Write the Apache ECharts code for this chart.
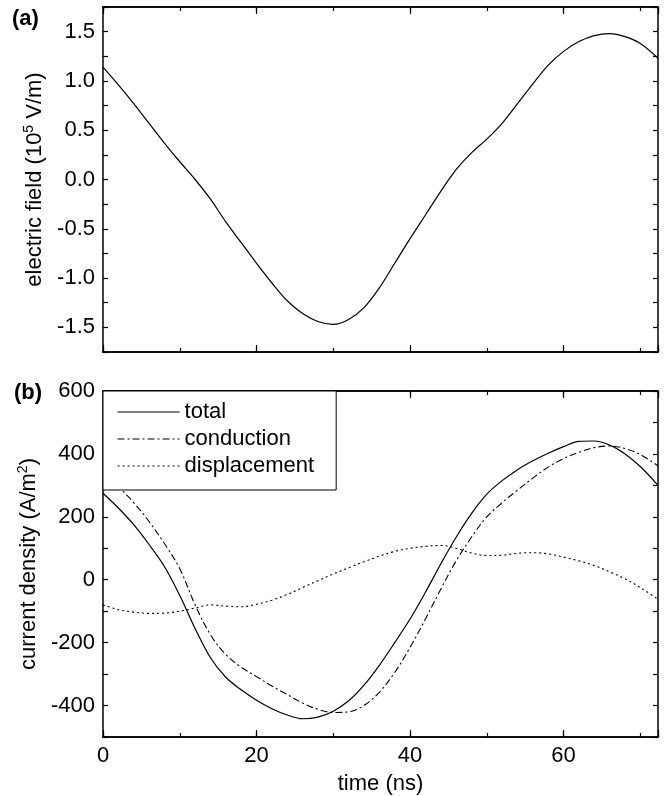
<!DOCTYPE html>
<html>
<head>
    <meta charset="utf-8">
    <script src="https://cdn.jsdelivr.net/npm/echarts@6/dist/echarts.min.js"></script>
    <style>
        html, body { margin: 0; padding: 0; background: #fff; }
        #chart { width: 669px; height: 796px; }
    </style>
</head>
<body>
    <div id="chart"></div>
    <script>
        // (a) electric field, 10^5 V/m
        var fieldTime = [0, 2, 4, 6, 8, 10, 12, 14, 16, 18, 20, 22, 24, 26, 28, 30, 32, 34, 36, 38, 40, 42, 44, 46, 48, 50, 52, 54, 56, 58, 60, 62, 64, 66, 68, 70, 72.3];
        var fieldVals = [1.14, 0.96, 0.77, 0.57, 0.37, 0.18, 0.00, -0.20, -0.43, -0.64, -0.85, -1.05, -1.23, -1.36, -1.44, -1.47, -1.42, -1.30, -1.10, -0.85, -0.60, -0.36, -0.12, 0.10, 0.27, 0.41, 0.57, 0.77, 0.97, 1.16, 1.30, 1.40, 1.46, 1.48, 1.45, 1.38, 1.23];

        // (b) current density, A/m^2
        var curTime = [0, 2, 4, 6, 8, 10, 12, 14, 16, 18, 20, 22, 24, 26, 28, 30, 32, 34, 36, 38, 40, 42, 44, 46, 48, 50, 52, 54, 56, 58, 60, 62, 64, 66, 68, 70, 72.3];
        var totalVals = [275, 228, 175, 112, 42, -50, -155, -248, -310, -350, -383, -410, -430, -442, -437, -418, -385, -335, -272, -200, -125, -40, 50, 135, 210, 272, 315, 350, 378, 402, 423, 440, 441, 428, 400, 360, 300];
        var condVals = [330, 295, 245, 185, 115, 35, -80, -175, -238, -278, -308, -338, -365, -392, -412, -422, -420, -400, -358, -295, -215, -125, -30, 60, 135, 200, 245, 285, 323, 358, 385, 405, 420, 425, 417, 398, 362];
        var dispVals = [-80, -95, -103, -107, -106, -100, -90, -80, -84, -86, -78, -65, -47, -25, -3, 18, 38, 57, 75, 90, 100, 106, 109, 100, 85, 77, 78, 84, 86, 82, 72, 60, 45, 25, 3, -25, -62];

        var seriesNames = ['total', 'conduction', 'displacement'];

        var FONT = 'Liberation Sans, Arial, sans-serif';
        var chart = echarts.init(document.getElementById('chart'));

        function pairs(xs, ys) {
            return xs.map(function (x, i) { return [x, ys[i]]; });
        }

        var frameLine = { show: true, onZero: false, lineStyle: { color: '#000', width: 1.5 } };

        // x axes: major + minor ticks, bottom and top of each panel
        function xAxes(grid, withLabels) {
            var list = [];
            ['bottom', 'top'].forEach(function (pos) {
                [20, 10].forEach(function (step) {
                    var major = step === 20;
                    var labelled = withLabels && pos === 'bottom' && major;
                    list.push({
                        type: 'value', gridIndex: grid, position: pos,
                        min: 0, max: 72.3, interval: step,
                        axisLine: frameLine,
                        axisTick: { show: true, inside: true, length: major ? 7 : 4, lineStyle: { color: '#000', width: 1.2 } },
                        axisLabel: {
                            show: labelled,
                            color: '#000', fontSize: 22, fontFamily: FONT, margin: 8,
                            formatter: function (v) { return v % 20 === 0 ? String(v) : ''; }
                        },
                        splitLine: { show: false },
                        name: labelled ? 'time (ns)' : '',
                        nameLocation: 'middle', nameGap: 36,
                        nameTextStyle: { color: '#000', fontSize: 22, fontFamily: FONT }
                    });
                });
            });
            return list;
        }

        function yAxes(grid, min, max, step, labelFn, name, rich) {
            return ['left', 'right'].map(function (pos) {
                return {
                    type: 'value', gridIndex: grid, position: pos,
                    min: min, max: max, interval: step,
                    axisLine: frameLine,
                    axisTick: { show: true, inside: true, length: 5, lineStyle: { color: '#000', width: 1.2 } },
                    axisLabel: {
                        show: pos === 'left', color: '#000', fontSize: 22, fontFamily: FONT, margin: 8,
                        formatter: labelFn
                    },
                    splitLine: { show: false },
                    name: pos === 'left' ? name : '',
                    nameLocation: 'middle', nameRotate: 90, nameGap: 54,
                    nameTextStyle: { color: '#000', fontFamily: FONT, rich: rich }
                };
            });
        }

        var nameRich = {
            n: { fontSize: 22, fontFamily: FONT, color: '#000', lineHeight: 26 },
            s: { fontSize: 14, fontFamily: FONT, color: '#000', lineHeight: 26, verticalAlign: 'top', padding: [0, 0, 7, 0] }
        };

        var option = {
            animation: false,
            backgroundColor: '#fff',
            grid: [
                { left: 103, right: 11, top: 7, height: 345 },
                { left: 103, right: 11, top: 391, height: 346 }
            ],
            xAxis: xAxes(0, false).concat(xAxes(1, true)),
            yAxis: yAxes(0, -1.75, 1.75, 0.25, function (v) {
                return Math.abs(v * 2 - Math.round(v * 2)) < 1e-6 ? v.toFixed(1) : '';
            }, '{n|electric field (10}{s|5}{n| V/m)}', nameRich).concat(
                yAxes(1, -500, 600, 100, function (v) {
                    return v % 200 === 0 ? String(v) : '';
                }, '{n|current density (A/m}{s|2}{n|)}', nameRich)),
            legend: {
                data: seriesNames,
                orient: 'vertical',
                left: 103, top: 391,
                padding: [10, 22, 13, 14],
                itemWidth: 62, itemHeight: 14, itemGap: 5,
                itemStyle: { opacity: 0 },
                lineStyle: { width: 1.1 },
                backgroundColor: '#fff',
                borderColor: '#000', borderWidth: 1,
                textStyle: { color: '#000', fontSize: 22, fontFamily: FONT }
            },
            graphic: [
                { type: 'text', left: 12, top: 8, style: { text: '(a)', font: 'bold 22px ' + FONT, fill: '#000' } },
                { type: 'text', left: 14, top: 382, style: { text: '(b)', font: 'bold 22px ' + FONT, fill: '#000' } }
            ],
            series: [
                {
                    type: 'line', xAxisIndex: 0, yAxisIndex: 0, data: pairs(fieldTime, fieldVals),
                    smooth: 0.35, symbol: 'none', lineStyle: { color: '#000', width: 1.2 }
                },
                {
                    name: 'total', type: 'line', xAxisIndex: 4, yAxisIndex: 2, data: pairs(curTime, totalVals),
                    smooth: 0.35, symbol: 'none', itemStyle: { color: '#000' }, lineStyle: { color: '#000', width: 1.2 }
                },
                {
                    name: 'conduction', type: 'line', xAxisIndex: 4, yAxisIndex: 2, data: pairs(curTime, condVals),
                    smooth: 0.35, symbol: 'none', itemStyle: { color: '#000' }, lineStyle: { color: '#000', width: 1.1, type: [7, 3, 2, 3] }
                },
                {
                    name: 'displacement', type: 'line', xAxisIndex: 4, yAxisIndex: 2, data: pairs(curTime, dispVals),
                    smooth: 0.35, symbol: 'none', itemStyle: { color: '#000' }, lineStyle: { color: '#000', width: 1.1, type: [2, 3] }
                }
            ]
        };

        chart.setOption(option);
    </script>
</body>
</html>
